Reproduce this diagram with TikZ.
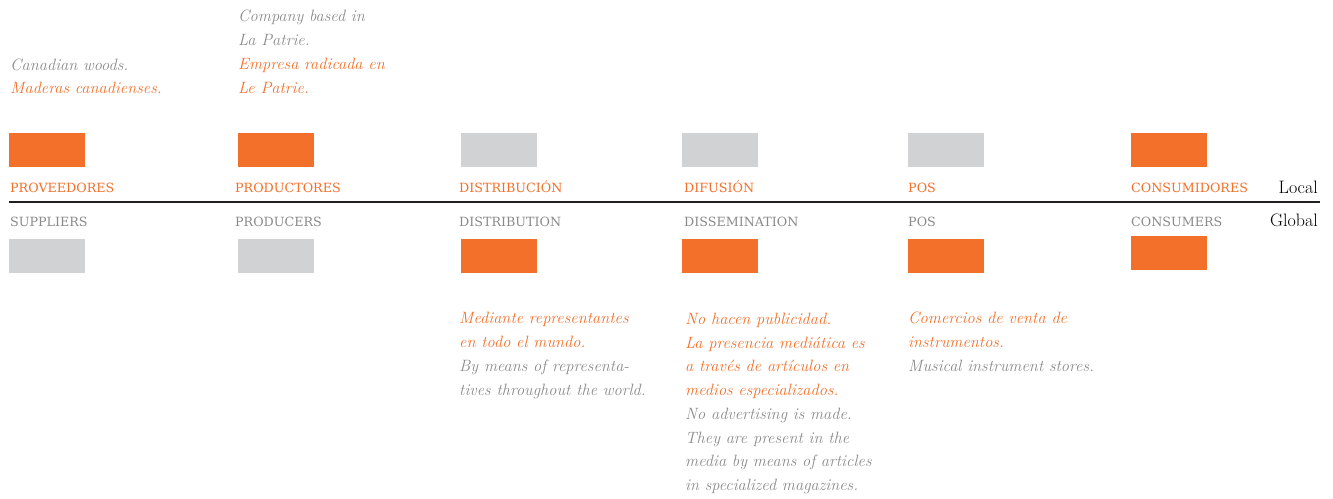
\documentclass[tikz,border=0pt]{standalone}
\usepackage{xcolor}
\usepackage{fontspec}
\usepackage{tikz}
\newfontfamily\tagfont{DejaVu Serif}
\definecolor{orng}{HTML}{F2702A}
\definecolor{boxgray}{HTML}{D1D2D4}
\definecolor{txtgray}{HTML}{8A8A8A}
\definecolor{rulecol}{HTML}{231F20}

\begin{document}
\begin{tikzpicture}[x=1pt, y=-1pt,
  onbox/.style={fill=orng, minimum width=76pt, minimum height=34pt, inner sep=0pt, anchor=north west},
  offbox/.style={onbox, fill=boxgray},
  tagES/.style={text=orng, font=\tagfont\fontsize{12.7}{15}\selectfont, inner sep=0pt, anchor=base west},
  tagEN/.style={tagES, text=txtgray},
  noteES/.style={text=orng, font=\fontsize{16.4}{23.5}\selectfont\itshape, align=left, inner sep=0pt, anchor=base west},
  noteEN/.style={noteES, text=txtgray}]
\useasboundingbox (0,0) rectangle (1333,498);

\coordinate (LL) at (9, 202); % left end of axis
\coordinate (RR) at (1320, 202); % right end of axis

% axis
\draw[line width=2pt, rulecol] (LL) -- (RR);
\node (local)  [anchor=base east, inner sep=0pt, font=\fontsize{18}{20}\selectfont] at (1318, 193) {Local};
\node (global) [anchor=base east, inner sep=0pt, font=\fontsize{18}{20}\selectfont] at (1318, 226) {Global};

% local boxes
\node (supL)  [onbox]  at (9, 133) {};
\node (proL)  [onbox]  at (238, 133) {};
\node (disL)  [offbox] at (461, 133) {};
\node (difL)  [offbox] at (682, 133) {};
\node (posL)  [offbox] at (908, 133) {};
\node (conL)  [onbox]  at (1131, 133) {};

% global boxes
\node (supG)  [offbox] at (9, 239) {};
\node (proG)  [offbox] at (238, 239) {};
\node (disG)  [onbox]  at (461, 239) {};
\node (difG)  [onbox]  at (682, 239) {};
\node (posG)  [onbox]  at (908, 239) {};
\node (conG)  [onbox]  at (1131, 236) {};

% labels above axis
\node (supES) [tagES] at (10, 192) {PROVEEDORES};
\node (proES) [tagES] at (235, 192) {PRODUCTORES};
\node (disES) [tagES] at (459, 192) {DISTRIBUCIÓN};
\node (difES) [tagES] at (684, 192) {DIFUSIÓN};
\node (posES) [tagES] at (908, 192) {POS};
\node (conES) [tagES] at (1131, 192) {CONSUMIDORES};

% labels below axis
\node (supEN) [tagEN] at (10, 226) {SUPPLIERS};
\node (proEN) [tagEN] at (235, 226) {PRODUCERS};
\node (disEN) [tagEN] at (459, 226) {DISTRIBUTION};
\node (difEN) [tagEN] at (684, 226) {DISSEMINATION};
\node (posEN) [tagEN] at (908, 226) {POS};
\node (conEN) [tagEN] at (1131, 226) {CONSUMERS};

% notes (placed at baseline of last line)
\node (woodsEN) [noteEN] at (10, 70) {Canadian woods.};
\node (woodsES) [noteES] at (10, 93) {Maderas canadienses.};
\node (firmEN)  [noteEN] at (238, 45) {Company based in\\La Patrie.};
\node (firmES)  [noteES] at (238, 93) {Empresa radicada en\\Le Patrie.};
\node (repES)   [noteES] at (459, 347) {Mediante representantes\\en todo el mundo.};
\node (repEN)   [noteEN] at (459, 395) {By means of representa-\\tives throughout the world.};
\node (pubES)   [noteES] at (685, 395) {No hacen publicidad.\\La presencia mediática es\\a través de artículos en\\medios especializados.};
\node (pubEN)   [noteEN] at (685, 490) {No advertising is made.\\They are present in the\\media by means of articles\\in specialized magazines.};
\node (shopES)  [noteES] at (908, 347) {Comercios de venta de\\instrumentos.};
\node (shopEN)  [noteEN] at (908, 371) {Musical instrument stores.};
\end{tikzpicture}
\end{document}
